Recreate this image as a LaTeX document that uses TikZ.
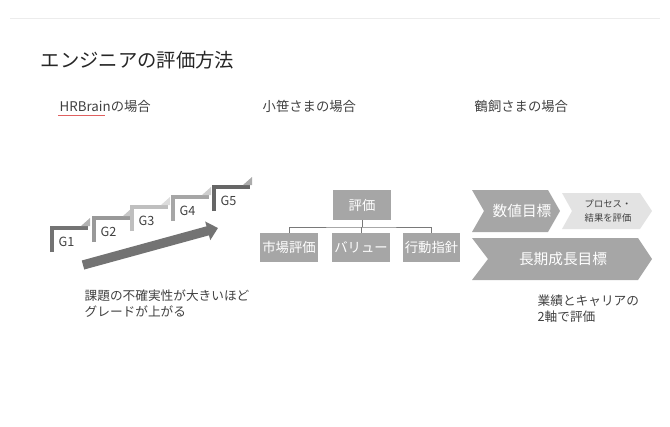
\documentclass[tikz,border=0pt]{standalone}
\usepackage{fontspec}
\setmainfont{Noto Sans CJK JP}
\usetikzlibrary{positioning, arrows.meta}
\definecolor{boxgray}{HTML}{A6A6A6}
\definecolor{lightgray}{HTML}{E3E3E3}
\definecolor{textgray}{HTML}{404040}
\definecolor{squiggle}{HTML}{E06060}
\begin{document}
\begin{tikzpicture}[x=0.75pt,y=-0.75pt,
    heading/.style={anchor=west, font=\fontsize{10}{12}\selectfont, text=textgray},
    box/.style={rectangle, fill=boxgray, minimum width=43pt, minimum height=22pt, inner sep=0pt, text=white, font=\fontsize{10}{12}\selectfont},
    gradestep/.style={line width=3pt},
    link/.style={draw=textgray!70, line width=0.5pt}
]
\useasboundingbox (0,0) rectangle (670,426);
\draw[gray!15] (10,18) -- (660,18);

% Title and headings
\node[anchor=west, font=\fontsize{14.5}{17}\selectfont, text=black!85] (title) at (36,60) {エンジニアの評価方法};
\node[heading] (hhr) at (55,106) {HRBrainの場合};
\node[heading] (hoz) at (258,106) {小笹さまの場合};
\node[heading] (htr) at (470,106) {鶴飼さまの場合};
\draw[squiggle, line width=0.6pt] (58,115) -- (105,115);

% Grade steps
\foreach \x/\y/\c/\g in {52/228/55/G1, 94/218/40/G2, 132/207/25/G3, 173/197/35/G4, 214/187/60/G5}{
  \draw[gradestep, draw=black!\c] (\x,\y+24) -- (\x,\y) -- (\x+36,\y);
  \fill[black!\c!white!55] (\x+29,\y-2) -- (\x+38,\y-2) -- (\x+38,\y-10) -- cycle;
  \node[anchor=west, font=\fontsize{9.5}{11}\selectfont, text=textgray] (\g) at (\x+2,\y+14) {\g};
}
\coordinate (arrs) at (83,265);
\coordinate (arre) at (218,228);
\draw[line width=7pt, draw=black!55, -{Triangle[length=8pt,width=14pt]}] (arrs) -- (arre);
\node[anchor=north west, align=left, font=\fontsize{9.5}{12}\selectfont, text=textgray] (hrcap) at (80,285) {課題の不確実性が大きいほど\\グレードが上がる};

% Org chart
\node[box] (eval) at (362,205) {評価};
\node[box] (market) at (289,247.5) {市場評価};
\node[box] (value) at (361,247.5) {バリュー};
\node[box] (action) at (431.5,247.5) {行動指針};
\coordinate (bus) at (362,227);
\draw[link] (eval.south) -- (bus);
\draw[link] (market.north) |- (bus) -| (action.north);
\draw[link] (value.north) -- (value.north |- bus);

% Chevrons
\fill[boxgray] (472,190) -- (548,190) -- (560,211) -- (548,232) -- (472,232) -- (484,211) -- cycle;
\fill[lightgray] (562,193) -- (640,193) -- (652,211) -- (640,229) -- (562,229) -- (572,211) -- cycle;
\fill[boxgray] (472,238) -- (638,238) -- (652,259) -- (638,280) -- (472,280) -- (488,259) -- cycle;
\node[text=white, font=\fontsize{11}{13}\selectfont] (num) at (522,211) {数値目標};
\node[align=center, text=textgray, font=\fontsize{7}{10}\selectfont] (proc) at (608,211) {プロセス・\\結果を評価};
\node[text=white, font=\fontsize{11}{13}\selectfont] (long) at (563,259) {長期成長目標};
\node[anchor=north west, align=left, font=\fontsize{9.5}{12}\selectfont, text=textgray] (trcap) at (533,290) {業績とキャリアの\\2軸で評価};
\end{tikzpicture}
\end{document}
